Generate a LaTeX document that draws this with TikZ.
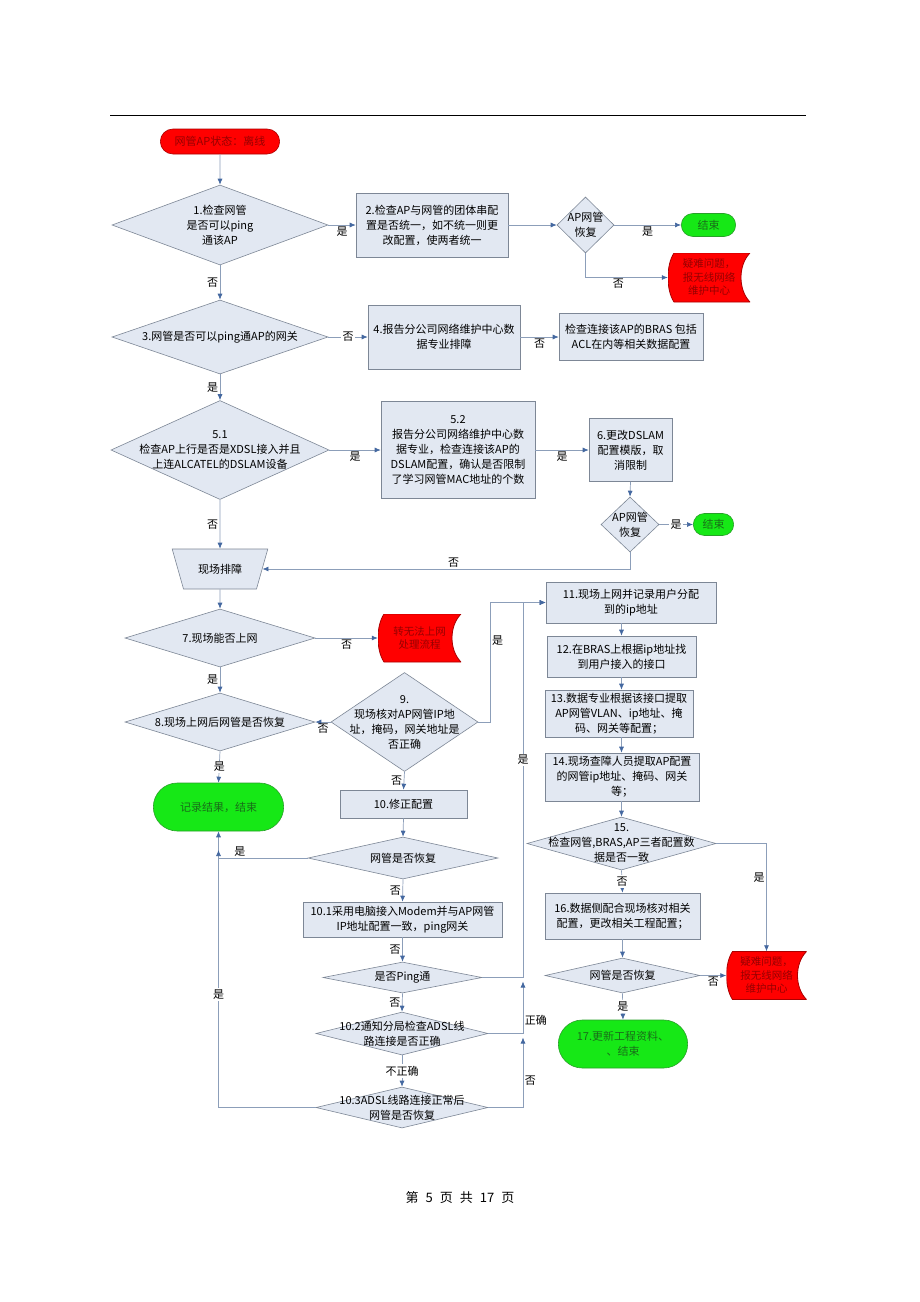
\documentclass[tikz,border=0pt]{standalone}
\usepackage{fontspec}
\newfontfamily\cjk{Noto Sans CJK SC}
\usepackage{tikz}
\usetikzlibrary{arrows.meta,calc,shapes.geometric,shapes.misc}
\definecolor{flowline}{RGB}{140,158,185}
\definecolor{flowtip}{RGB}{68,104,160}
\definecolor{boxfill}{RGB}{226,232,242}
\definecolor{boxline}{RGB}{125,135,150}
\definecolor{figgreen}{RGB}{22,232,22}
\definecolor{figgreenline}{RGB}{40,160,40}
\definecolor{figgreentext}{RGB}{25,110,25}
\definecolor{figred}{RGB}{255,0,0}
\definecolor{figredline}{RGB}{170,0,0}
\definecolor{figredtext}{RGB}{150,0,0}
\tikzset{
  proc/.style ={rectangle, draw=boxline, fill=boxfill, line width=0.6pt, align=center,
                inner sep=2pt, font=\cjk\fontsize{11}{15}\selectfont},
  dec/.style  ={diamond, draw=boxline, fill=boxfill, line width=0.6pt, inner sep=0pt},
  dtext/.style={label={[align=center, font=\cjk\fontsize{11}{15}\selectfont]center:#1}},
  term/.style ={rounded rectangle, draw=figgreenline, fill=figgreen, text=figgreentext,
                line width=0.6pt, align=center, font=\cjk\fontsize{11}{15}\selectfont},
  trap/.style ={trapezium, trapezium stretches=true, trapezium angle=65, shape border rotate=180,
                draw=boxline, fill=boxfill, line width=0.6pt, font=\cjk\fontsize{11}{15}\selectfont},
  stopbox/.style={rectangle, fill=white, inner sep=0pt, align=center, text=figredtext,
                font=\cjk\fontsize{10.5}{13.5}\selectfont,
                path picture={
                  \draw[fill=figred, draw=figredline, line width=0.8pt]
                    ($(path picture bounding box.north west)+(6pt,0pt)$)
                    -- (path picture bounding box.north east)
                    .. controls ($(path picture bounding box.north east)+(-12pt,-12pt)$)
                       and ($(path picture bounding box.south east)+(-12pt,12pt)$)
                    .. (path picture bounding box.south east)
                    -- ($(path picture bounding box.south west)+(6pt,0pt)$)
                    .. controls ($(path picture bounding box.south west)+(-2pt,12pt)$)
                       and ($(path picture bounding box.north west)+(-2pt,-12pt)$)
                    .. cycle;}},
  flow/.style ={draw=flowline, line width=0.7pt, -{Latex[length=6pt,width=5pt,color=flowtip]}},
  lab/.style  ={font=\cjk\fontsize{11}{12}\selectfont, inner sep=1.5pt, text=black},
  onl/.style  ={lab, fill=white},
}
\begin{document}
\begin{tikzpicture}[x=1pt,y=-1pt]
  \useasboundingbox (0,0) rectangle (920,1302);
  \fill[white] (0,0) rectangle (920,1302);
  \draw[black, line width=0.8pt] (110,115) -- (806,115);

  % left column
  \node[term, fill=figred, draw=figredline, text=figredtext, minimum width=126, minimum height=25] (start) at (220,141.5) {网管AP状态：离线};
  \node[dec, minimum width=216, minimum height=80, dtext={1.检查网管\\是否可以ping\\通该AP}] (d1) at (220,225) {};
  \node[dec, minimum width=216, minimum height=74, dtext={3.网管是否可以ping通AP的网关}] (d3) at (220,337) {};
  \node[dec, minimum width=218, minimum height=99, dtext={5.1\\检查AP上行是否是XDSL接入并且\\上连ALCATEL的DSLAM设备}] (d51) at (220,450) {};
  \node[trap, minimum width=96, minimum height=40] (fs) at (220,569) {现场排障};
  \node[dec, minimum width=190, minimum height=58, dtext={7.现场能否上网}] (d7) at (220,638) {};
  \node[dec, minimum width=190, minimum height=58, dtext={8.现场上网后网管是否恢复}] (d8) at (220,722) {};
  \node[term, minimum width=137, minimum height=48] (g1) at (218.5,807) {记录结果，结束};

  % top right
  \node[proc, minimum width=152, minimum height=64] (p2) at (432,225) {2.检查AP与网管的团体串配\\置是否统一，如不统一则更\\改配置，使两者统一};
  \node[dec, minimum width=57, minimum height=56, dtext={AP网管\\恢复}] (d2) at (585.5,225) {};
  \node[term, minimum width=61, minimum height=23] (e1) at (708.5,225) {结束};
  \node[stopbox, minimum width=82, minimum height=49] (r1) at (709,277.5) {疑难问题，\\报无线网络\\维护中心};
  \node[proc, minimum width=152, minimum height=64] (p4) at (444,337) {4.报告分公司网络维护中心数\\据专业排障};
  \node[proc, minimum width=144, minimum height=47] (p5) at (631,337) {检查连接该AP的BRAS 包括\\ACL在内等相关数据配置};
  \node[proc, minimum width=154, minimum height=97] (p52) at (458,450) {5.2\\报告分公司网络维护中心数\\据专业，检查连接该AP的\\DSLAM配置，确认是否限制\\了学习网管MAC地址的个数};
  \node[proc, minimum width=83, minimum height=63] (p6) at (630.5,450) {6.更改DSLAM\\配置模版，取\\消限制};
  \node[dec, minimum width=58, minimum height=55, dtext={AP网管\\恢复}] (d6) at (630,524.5) {};
  \node[term, minimum width=47, minimum height=22] (e2) at (713.5,524.5) {结束};

  % middle column
  \node[stopbox, minimum width=83, minimum height=48] (r2) at (419.5,638) {转无法上网\\处理流程};
  \node[dec, minimum width=147, minimum height=99, dtext={9.\\现场核对AP网管IP地\\址，掩码，网关地址是\\否正确}] (d9) at (404.5,722) {};
  \node[proc, minimum width=127, minimum height=28] (p10) at (403.5,804) {10.修正配置};
  \node[dec, minimum width=190, minimum height=42, dtext={网管是否恢复}] (d10) at (403,858) {};
  \node[proc, minimum width=199, minimum height=35] (p101) at (402.5,919.5) {10.1采用电脑接入Modem并与AP网管\\IP地址配置一致，ping网关};
  \node[dec, minimum width=159, minimum height=31, dtext={是否Ping通}] (dp) at (402.5,977.5) {};
  \node[dec, minimum width=172, minimum height=43, dtext={10.2通知分局检查ADSL线\\路连接是否正确}] (d102) at (402,1033.5) {};
  \node[dec, minimum width=172, minimum height=41, dtext={10.3ADSL线路连接正常后\\网管是否恢复}] (d103) at (402,1107.5) {};

  % right column
  \node[proc, minimum width=170, minimum height=41] (p11) at (631,602.5) {11.现场上网并记录用户分配\\到的ip地址};
  \node[proc, minimum width=149, minimum height=41] (p12) at (621.5,656.5) {12.在BRAS上根据ip地址找\\到用户接入的接口};
  \node[proc, minimum width=148, minimum height=47] (p13) at (619,713.5) {13.数据专业根据该接口提取\\AP网管VLAN、ip地址、掩\\码、网关等配置；};
  \node[proc, minimum width=154, minimum height=48] (p14) at (622,777) {14.现场查障人员提取AP配置\\的网管ip地址、掩码、网关\\等；};
  \node[dec, minimum width=189, minimum height=53, dtext={15.\\检查网管,BRAS,AP三者配置数\\据是否一致}] (d15) at (621.5,843.5) {};
  \node[proc, minimum width=155, minimum height=46] (p16) at (622.5,916) {16.数据侧配合现场核对相关\\配置，更改相关工程配置；};
  \node[dec, minimum width=155, minimum height=35, dtext={网管是否恢复}] (d16) at (622.5,975.5) {};
  \node[stopbox, minimum width=80, minimum height=48] (r3) at (766.5,975.5) {疑难问题，\\报无线网络\\维护中心};
  \node[term, minimum width=136, minimum height=48] (g17) at (623,1044) {17.更新工程资料、\\、结束};

  \node[font=\cjk\fontsize{13}{15}\selectfont] (pg) at (460,1198) {第\hspace{7pt}5\hspace{7pt}页\hspace{7pt}共\hspace{7pt}17\hspace{7pt}页};
  \coordinate (rail) at (523,602.5);

  % connectors
  \draw[flow] (start) -- (d1);
  \draw[flow] (d1.east) -- node[lab, below] {是} (p2.west);
  \draw[flow] (p2.east) -- (d2.west);
  \draw[flow] (d2.east) -- node[lab, below] {是} (e1.west);
  \draw[flow] (d2.south) |- node[lab, pos=0.7, below] {否} (r1.west);
  \draw[flow] (d1.south) -- node[lab, left] {否} (d3.north);
  \draw[flow] (d3.east) -- node[onl] {否} (p4.west);
  \draw[flow] (p4.east) -- node[lab, below] {否} (p5.west);
  \draw[flow] (d3.south) -- node[lab, left] {是} (d51.north);
  \draw[flow] (d51.east) -- node[lab, below] {是} (p52.west);
  \draw[flow] (p52.east) -- node[lab, below] {是} (p6.west);
  \draw[flow] (p6.south) -- (d6.north);
  \draw[flow] (d6.east) -- node[onl] {是} (e2.west);
  \draw[flow] (d6.south) |- node[lab, pos=0.74, above] {否} (fs.east);
  \draw[flow] (d51.south) -- node[lab, left] {否} (fs.north);
  \draw[flow] (fs.south) -- (d7.north);
  \draw[flow] (d7.east) -- node[lab, below] {否} (r2.west);
  \draw[flow] (d7.south) -- node[lab, left] {是} (d8.north);
  \draw[flow] (d9.west) -- node[lab, below] {否} (d8.east);
  \draw[flow] (d8.south) -- node[onl] {是} (g1.north);
  \draw[flow] (d9.east) -- ++(12,0) |- node[lab, pos=0.34, right] {是} (p11.west);
  \draw[flow] (d9.south) -- node[lab, left] {否} (p10.north);
  \draw[flow] (p10.south) -- (d10.north);
  \draw[flow] (d10.west) -| node[lab, pos=0.38, above] {是} (g1.south);
  \draw[flow] (d10.south) -- node[lab, left] {否} (p101.north);
  \draw[flow] (p101.south) -- node[lab, left] {否} (dp.north);
  \draw[flow] (dp.south) -- node[lab, left] {否} (d102.north);
  \draw[flow] (d102.south) -- node[onl] {不正确} (d103.north);
  \draw[flow] (d103.west) -| node[onl, pos=0.72] {是} ($(g1.south |- d10.west)+(0,-8)$);
  \draw[flow] (d103.east) -| node[lab, pos=0.69, right] {否} ($(rail |- d102.east)+(0,4)$);
  \draw[flow] (d102.east) -| node[lab, pos=0.63, right] {正确} ($(rail |- dp.east)+(0,4)$);
  \draw[flow] (dp.east) -| node[onl, pos=0.79] {是} (rail) -- (p11.west);
  \draw[flow] (p11.south -| p12.north) -- (p12.north);
  \draw[flow] (p12.south) -- (p12.south |- p13.north);
  \draw[flow] (p12.south |- p13.south) -- (p12.south |- p14.north);
  \draw[flow] (p12.south |- p14.south) -- (d15.north);
  \draw[flow] (d15.south) -- node[onl] {否} (p16.north);
  \draw[flow] (d15.east) -| node[lab, pos=0.66, left] {是} (r3.north);
  \draw[flow] (p16.south) -- (d16.north);
  \draw[flow] (d16.east) -- node[lab, below] {否} (r3.west);
  \draw[flow] (d16.south) -- node[onl] {是} (g17.north);
\end{tikzpicture}
\end{document}
